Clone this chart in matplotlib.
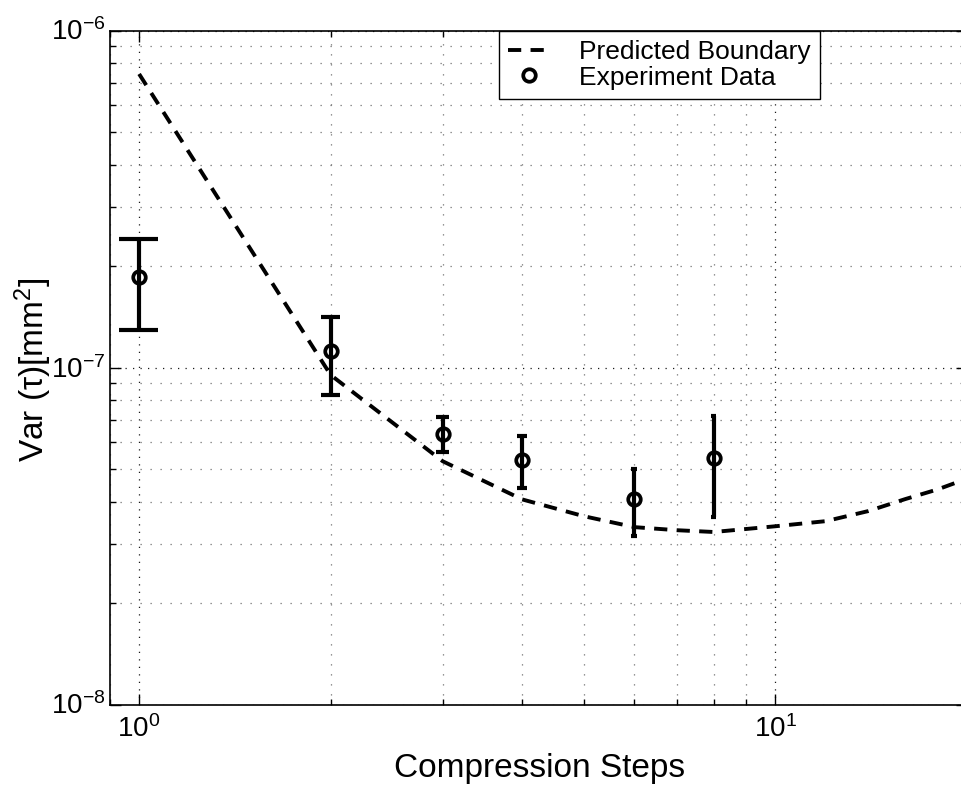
import matplotlib
matplotlib.use("Agg")
import matplotlib.pyplot as plt
import numpy as np
from matplotlib.ticker import LogLocator, NullFormatter
from matplotlib.transforms import ScaledTranslation

plt.rcParams['font.family'] = ['Liberation Sans', 'DejaVu Sans']
plt.rcParams['mathtext.fontset'] = 'custom'
plt.rcParams['mathtext.rm'] = 'Liberation Sans'
plt.rcParams['mathtext.it'] = 'Liberation Sans:italic'
plt.rcParams['mathtext.default'] = 'regular'

# Predicted boundary (dashed line)
x_line = [1, 2, 3, 4, 5, 6, 7, 8, 10, 12, 14, 16, 18, 20]
y_line = [7.43e-7, 9.5e-8, 5.27e-8, 4.06e-8, 3.62e-8, 3.36e-8, 3.29e-8,
          3.25e-8, 3.38e-8, 3.50e-8, 3.75e-8, 4.07e-8, 4.35e-8, 4.68e-8]

# Experiment data with symmetric error
x_exp = [1, 2, 3, 4, 6, 8]
y_exp = [1.85e-7, 1.12e-7, 6.37e-8, 5.33e-8, 4.08e-8, 5.40e-8]
err_exp = [5.6e-8, 2.9e-8, 7.5e-9, 9.5e-9, 9.1e-9, 1.8e-8]

legend_labels = ['Predicted Boundary', 'Experiment Data']
xlabel = 'Compression Steps'
ylabel = 'Var (τ)[mm$^2$]'

W, H = 961, 786
fig = plt.figure(figsize=(W / 100, H / 100), dpi=100)
left, right, top, bottom = 110, 967, 30.5, 704.5
ax = fig.add_axes([left / W, 1 - bottom / H, (right - left) / W, (bottom - top) / H])
ax.set_xscale('log')
ax.set_yscale('log')
ax.set_xlim(0.9, 20)
ax.set_ylim(1e-8, 1e-6)

lw_err = 3.0
line, = ax.plot(x_line, y_line, color='black', lw=2.8, dashes=(3.4, 2.4), zorder=3)

xe = np.array(x_exp)
ye = np.array(y_exp)
ee = np.array(err_exp)
ax.errorbar(xe, ye, yerr=ee, fmt='none', ecolor='black', elinewidth=lw_err,
            capsize=0, zorder=4)
capw = 0.07
ax.hlines(ye + ee, xe - capw, xe + capw, colors='black', lw=lw_err, zorder=4)
ax.hlines(ye - ee, xe - capw, xe + capw, colors='black', lw=lw_err, zorder=4)
pts, = ax.plot(xe, ye, linestyle='none', marker='o', markersize=9,
               markerfacecolor='none', markeredgecolor='black',
               markeredgewidth=2.7, zorder=5)

# grid
ax.yaxis.set_minor_locator(LogLocator(base=10, subs=np.arange(2, 10)))
ax.xaxis.set_minor_locator(LogLocator(base=10, subs=np.arange(2, 10)))
ax.yaxis.set_minor_formatter(NullFormatter())
ax.xaxis.set_minor_formatter(NullFormatter())
ax.grid(True, which='major', color='0.1', linestyle=(0, (1, 5)), lw=0.9)
ax.grid(True, which='minor', color='0.45', linestyle=(0, (1, 7)), lw=0.9)
ax.set_axisbelow(True)

ax.tick_params(which='both', direction='in', top=True, right=True,
               labelsize=20, width=1.0, color='black')
ax.tick_params(which='major', length=8)
ax.tick_params(which='minor', length=4)
ax.tick_params(axis='x', pad=8)
ax.tick_params(axis='y', pad=3)
for s in ax.spines.values():
    s.set_linewidth(1.2)

# align the "10" of y tick labels with the tick
for t in ax.yaxis.get_major_ticks():
    t.label1.set_va('baseline')
    t.label1.set_transform(t.label1.get_transform() +
                           ScaledTranslation(0, -10 / 100, fig.dpi_scale_trans))

ax.set_xlabel(xlabel, fontsize=24, va='baseline')
ax.xaxis.set_label_coords(540 / W, 1 - 777 / H, transform=fig.transFigure)

ax.set_ylabel(ylabel, fontsize=24, va='baseline', rotation_mode='anchor')
ax.yaxis.set_label_coords(44 / W, 1 - 370 / H, transform=fig.transFigure)

leg = ax.legend([line, pts], legend_labels, loc='upper right',
                bbox_to_anchor=(820 / W, 1 - 31 / H), bbox_transform=fig.transFigure,
                fontsize=19, frameon=True, fancybox=False, framealpha=1,
                edgecolor='black', borderaxespad=0, handlelength=1.6,
                handletextpad=1.1, borderpad=0.35, labelspacing=0.05)
leg.get_frame().set_linewidth(1.0)

fig.savefig('out.png', dpi=100)
